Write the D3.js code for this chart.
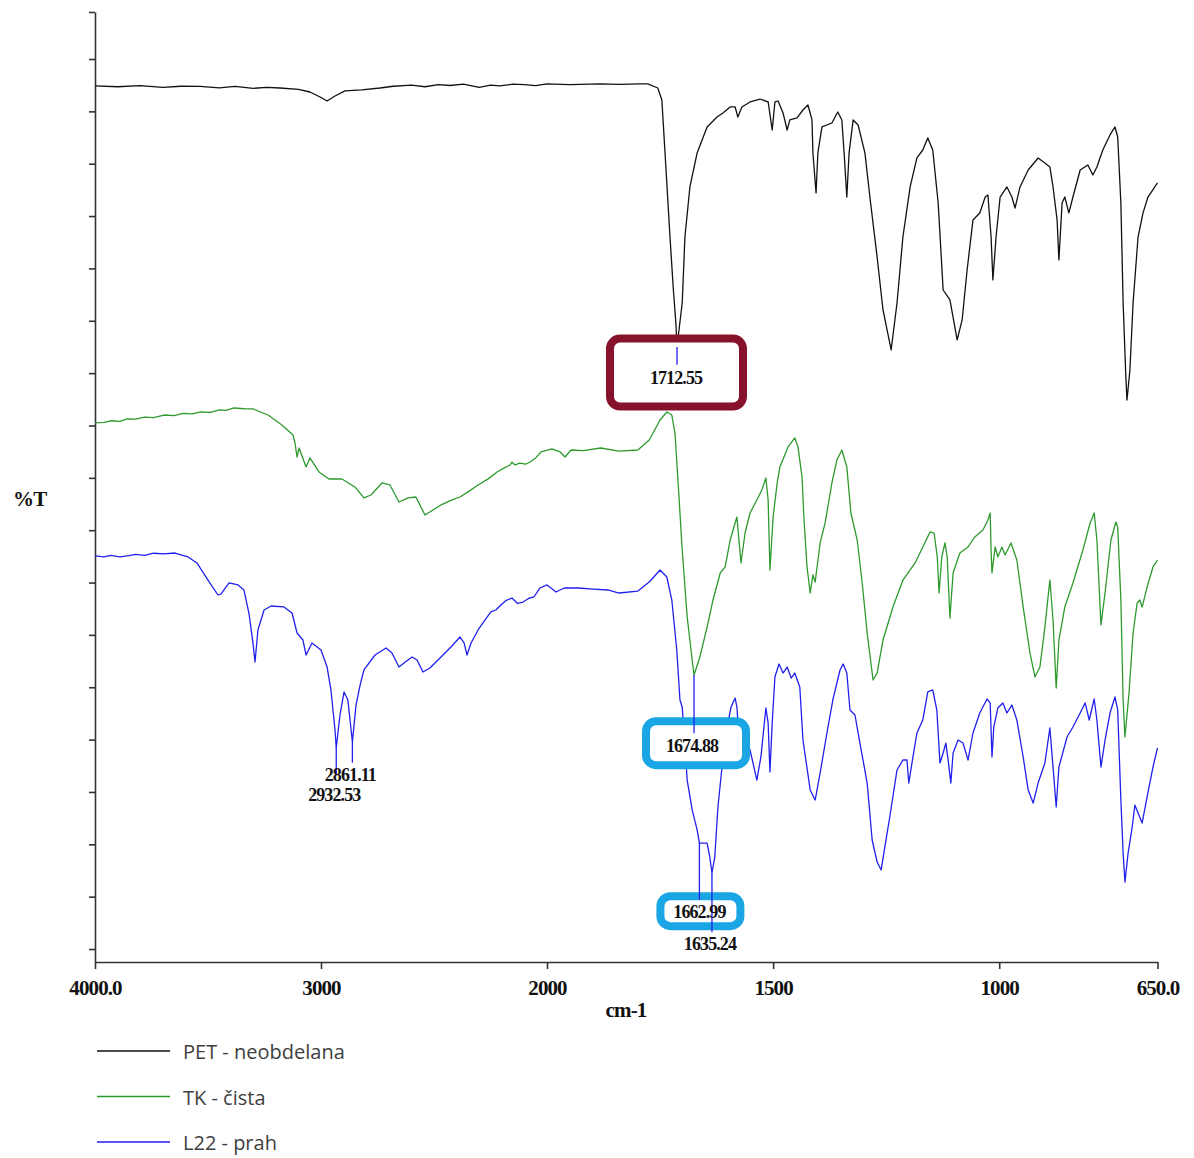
<!DOCTYPE html>
<html>
<head>
<meta charset="utf-8">
<script src="https://cdn.jsdelivr.net/npm/d3@7"></script>
<style>
  body { margin: 0; background: #fff; }
  svg { display: block; }
</style>
</head>
<body>
<svg id="chart" width="1194" height="1158"></svg>
<script>
// FTIR spectra: [wavenumber (cm-1), %T] pairs, stacked with offsets
const petSpectrum = [
  [4000,82.43],[3900,82.35],[3800,82.45],[3700,82.3],[3620,82.4],[3535,82.38],[3450,82.25],[3380,82.38],[3300,82.2],
  [3240,82.3],[3181,82.23],[3100,82.1],[3049,81.85],[3004,81.37],[2973,80.99],[2938,81.47],[2894,81.95],
  [2820,82.05],[2739,82.23],[2680,82.4],[2600,82.5],[2540,82.35],[2480,82.55],[2429,82.47],[2370,82.6],[2300,82.3],
  [2250,82.5],[2208,82.43],[2150,82.6],[2100,82.55],[2050,82.45],[2000,82.62],[1950,82.55],[1883,82.62],[1840,82.58],[1794,82.62],
  [1777,82.62],[1755,82.23],[1746,81.09],[1739,76.03],[1728,68.0],[1721,63.23],[1715,59.79],[1712.55,57.5],
  [1701,61.70],[1695,68.0],[1684,72.78],[1668,76.03],[1646,78.51],[1624,79.46],[1611,79.85],[1595,80.42],
  [1584,80.42],[1578,79.46],[1569,80.42],[1551,80.90],[1529,81.18],[1511,80.90],[1502,78.22],[1496,80.90],
  [1489,80.99],[1478,79.85],[1469,78.22],[1463,79.18],[1447,79.37],[1434,80.13],[1423,80.61],[1414,79.18],
  [1412,76.03],[1405,72.21],[1401,76.03],[1392,78.51],[1370,78.89],[1357,79.94],[1348,79.18],[1343,76.03],
  [1337,71.82],[1332,76.03],[1323,79.18],[1312,78.70],[1297,76.03],[1286,71.82],[1270,66.09],[1257,61.03],
  [1239,57.21],[1226,61.70],[1213,68.0],[1197,72.78],[1182,75.55],[1169,76.31],[1158,77.46],[1147,76.31],
  [1135,71.25],[1124,62.94],[1109,61.99],[1093,58.17],[1082,60.08],[1071,64.85],[1058,69.63],[1043,70.30],
  [1031,71.82],[1025,72.01],[1018,68.0],[1014,63.90],[1007,68.0],[998,71.82],[983,72.78],[972,71.82],
  [965,70.77],[954,72.78],[936,74.40],[914,75.55],[899,75.07],[888,74.69],[881,72.78],[872,69.63],
  [868,65.81],[861,71.25],[855,71.82],[846,70.30],[837,71.82],[821,74.40],[804,74.88],[793,73.93],
  [784,74.69],[771,76.31],[755,77.75],[744,78.51],[738,77.55],[731,71.25],[726,61.70],[720,54.63],
  [717.5,52.43],[711,55.30],[704,61.70],[693,68.0],[682,70.30],[671,71.82],[656,72.78],[650,73.16]
];

const tkSpectrum = [
  [4000,50.24],[3960,50.3],[3930,50.45],[3890,50.4],[3858,50.62],[3820,50.6],[3780,50.8],[3740,50.75],[3695,51.0],
  [3650,50.95],[3610,51.15],[3570,51.1],[3531,51.29],[3490,51.25],[3450,51.5],[3420,51.45],[3385,51.67],
  [3340,51.6],[3301,51.58],[3234,51.0],[3173,50.05],[3124,49.09],[3115,48.33],[3106,46.99],[3097,47.85],[3066,46.04],
  [3049,46.90],[3009,45.56],[2965,44.89],[2907,44.89],[2850,44.13],[2810,43.08],[2779,43.36],[2730,44.51],
  [2695,44.32],[2655,42.69],[2615,43.08],[2580,43.17],[2540,41.45],[2469,42.41],[2420,42.9],[2385,43.17],[2340,43.8],[2305,44.32],
  [2260,44.9],[2221,45.56],[2185,46.0],[2165,46.2],[2155,46.51],[2142,46.23],[2120,46.4],[2095,46.3],[2075,46.51],[2050,46.9],[2027,47.47],[1989,47.76],[1971,47.47],
  [1960,46.99],[1947,47.66],[1920,47.6],[1881,47.85],[1841,47.56],[1799,47.66],[1774,48.61],[1750,50.52],[1735,51.29],
  [1724,51.0],[1717,49.28],[1710,44.51],[1701,38.11],[1690,31.71],[1679,27.60],[1674.88,26.17],[1662,27.89],
  [1646,30.75],[1633,33.33],[1617,35.91],[1606,36.49],[1595,39.06],[1580,41.26],[1571,36.87],[1562,39.73],
  [1551,41.64],[1536,42.88],[1525,43.84],[1516,44.99],[1511,42.88],[1507,36.20],[1500,41.26],[1491,44.51],
  [1485,46.04],[1467,47.95],[1452,48.81],[1445,47.95],[1436,45.08],[1432,41.26],[1425,36.49],[1418,34.0],
  [1412,35.72],[1407,35.05],[1396,38.78],[1385,40.69],[1370,44.51],[1359,46.70],[1348,47.66],[1337,46.04],
  [1328,41.64],[1314,39.06],[1303,34.96],[1292,30.18],[1279,25.69],[1270,26.36],[1257,29.51],[1235,32.66],
  [1213,35.24],[1186,36.87],[1169,38.40],[1153,39.83],[1144,39.73],[1137,37.44],[1133,34.0],[1127,37.44],
  [1120,38.78],[1115,37.44],[1109,31.61],[1102,35.91],[1087,37.82],[1069,38.40],[1054,39.35],[1036,40.02],
  [1025,40.97],[1020,41.64],[1018,38.11],[1016,35.91],[1009,38.40],[1003,37.44],[994,38.40],[987,37.63],
  [974,38.78],[961,37.15],[947,32.66],[932,28.27],[921,25.98],[910,26.93],[899,30.75],[888,35.24],
  [881,31.42],[874,24.93],[868,29.51],[855,32.66],[837,34.96],[815,38.11],[799,40.69],[790,41.64],
  [784,39.06],[775,30.95],[766,34.0],[753,39.06],[742,40.78],[738,40.31],[731,33.33],[726,23.78],
  [722,20.25],[713,24.45],[704,30.18],[695,33.05],[689,33.33],[684,32.66],[673,34.57],[660,36.49],[650,37.15]
];

const l22Spectrum = [
  [4000,37.54],[3960,37.45],[3930,37.6],[3890,37.45],[3858,37.54],[3820,37.7],[3780,37.6],[3740,37.8],[3695,37.73],[3646,37.82],[3588,37.44],[3549,36.87],[3500,35.24],
  [3456,33.81],[3442,33.91],[3407,34.96],[3367,34.77],[3341,34.29],[3319,32.09],[3301,29.23],[3292,27.41],
  [3279,30.47],[3252,32.38],[3221,32.76],[3164,32.67],[3128,32.09],[3106,30.18],[3080,29.51],[3066,28.08],
  [3040,29.23],[3000,28.56],[2973,26.93],[2956,24.74],[2938,20.92],[2932.53,19.20],[2916,22.35],[2898,24.55],
  [2881,23.78],[2861.11,19.77],[2845,23.30],[2827,25.21],[2810,26.65],[2761,28.08],[2712,28.75],[2686,28.27],
  [2655,26.93],[2633,27.32],[2597,27.89],[2575,27.60],[2549,26.46],[2518,26.84],[2469,27.89],[2425,28.84],
  [2385,29.80],[2367,29.23],[2354,28.08],[2336,29.23],[2305,30.47],[2275,31.4],[2248,32.19],[2225,32.4],[2204,32.86],[2180,33.3],[2155,33.52],
  [2130,33.0],[2106,33.14],[2080,33.5],[2058,33.62],[2031,34.48],[2000,34.77],[1980,34.10],[1962,34.48],[1931,34.48],[1898,34.38],
  [1865,34.29],[1841,34.0],[1799,34.19],[1774,35.05],[1750,36.20],[1735,35.53],[1724,33.33],[1713,28.56],
  [1706,23.78],[1701,23.11],[1690,16.14],[1679,13.28],[1668,11.37],[1662.99,10.12],[1646,10.12],[1640,8.79],
  [1635.24,7.26],[1629,8.79],[1622,13.56],[1613,17.38],[1602,21.20],[1593,23.11],[1584,23.97],[1580,23.11],
  [1573,18.34],[1567,19.96],[1551,19.01],[1536,16.14],[1527,18.34],[1516,23.02],[1511,21.59],[1507,16.91],
  [1502,21.59],[1496,25.98],[1487,27.22],[1478,26.36],[1469,26.93],[1460,25.88],[1452,26.36],[1441,25.02],
  [1434,19.96],[1418,15.19],[1407,14.23],[1396,16.81],[1381,20.63],[1368,23.78],[1352,26.65],[1345,27.22],
  [1337,26.36],[1330,22.83],[1319,22.35],[1308,19.67],[1292,15.85],[1281,10.41],[1270,8.31],[1261,7.55],
  [1253,9.74],[1242,12.61],[1226,17.10],[1213,18.05],[1204,18.05],[1200,15.85],[1193,17.76],[1182,20.63],
  [1169,21.87],[1158,24.55],[1147,24.74],[1138,22.83],[1131,17.76],[1124,18.72],[1118,19.67],[1113,18.05],
  [1107,15.85],[1102,18.72],[1091,19.96],[1080,19.67],[1069,18.05],[1058,20.63],[1043,22.54],[1027,23.88],
  [1020,23.50],[1016,18.34],[1012,21.20],[1003,23.02],[992,23.50],[983,22.54],[972,23.30],[961,21.87],
  [947,18.34],[936,15.19],[925,13.94],[914,15.85],[899,17.76],[888,21.11],[881,17.38],[874,13.56],
  [868,17.38],[850,20.25],[837,21.20],[821,22.54],[810,23.50],[801,21.87],[790,23.88],[784,21.87],
  [775,17.38],[766,19.96],[755,22.54],[744,24.07],[738,22.83],[731,14.23],[726,9.17],[722,6.40],
  [715,9.17],[706,11.65],[700,13.75],[693,12.99],[684,12.03],[673,14.52],[660,17.38],[650,19.20]
];

const seriesNames = ["PET - neobdelana", "TK - čista", "L22 - prah"];
const seriesData = [petSpectrum, tkSpectrum, l22Spectrum];
const seriesColors = ["#111111", "#2e9a2e", "#2020ee"];

// x axis: expanded scale below 2000 cm-1
const xBreaks = [4000, 2000, 650];
const xTickValues = [4000, 3000, 2000, 1500, 1000, 650];
const xTickLabels = ["4000.0", "3000", "2000", "1500", "1000", "650.0"];
const yDomain = [-1.24, 89.49];
const yTickValues = [0,5,10,15,20,25,30,35,40,45,50,55,60,65,70,75,80,85,89.49];

// peak picks: wavenumber, series index, label text, line end and label baseline (%T)
const peakWn     = [1712.55, 2932.53, 2861.11, 1674.88, 1662.99, 1635.24];
const peakSeries = [0, 2, 2, 1, 2, 2];
const peakText   = ["1712.55", "2932.53", "2861.11", "1674.88", "1662.99", "1635.24"];
const peakLineEndT = [55.8, 16.6, 17.8, 20.6, 4.7, 1.6];
const peakLabelT   = [54.0, 14.1, 16.05, 18.8, 2.95, -0.1];
const peakLabelDx  = [-1, -2, -2, -2, 0, -2];
// highlight frames around labels: [label index, colour, left, right, top, bottom]
const frames = [
  [0, "#86122b", -66, 67, -45, 23],
  [3, "#1aa6e4", -46, 54, -31, 13],
  [4, "#1aa6e4", -39, 41, -22, 8]
];

const svg = d3.select("#chart");
const x = d3.scaleLinear().domain(xBreaks).range([95, 547, 1157.5]);
const y = d3.scaleLinear().domain(yDomain).range([962, 12]);

// axes
const axisColor = "#333";
const serif = "'Liberation Serif', 'Times New Roman', serif";
const gx = svg.append("g").attr("transform", "translate(0,962)")
  .call(d3.axisBottom(x).tickValues(xTickValues)
    .tickFormat((d, i) => xTickLabels[i]).tickSize(7).tickSizeOuter(0).tickPadding(11));
gx.select(".domain").attr("stroke", axisColor).attr("stroke-width", 1.6);
gx.selectAll(".tick line").attr("stroke", axisColor).attr("stroke-width", 1.6);
gx.selectAll(".tick text")
  .attr("font-family", serif)
  .attr("font-weight", "bold").attr("font-size", 21).attr("letter-spacing", -0.9)
  .attr("fill", "#111");

const gy = svg.append("g").attr("transform", "translate(95,0)")
  .call(d3.axisLeft(y).tickValues(yTickValues).tickFormat("").tickSize(6).tickSizeOuter(0));
gy.select(".domain").attr("stroke", axisColor).attr("stroke-width", 1.6);
gy.selectAll(".tick line").attr("stroke", axisColor).attr("stroke-width", 1.6);

svg.append("text").attr("x", 13).attr("y", 506)
  .attr("font-family", serif).attr("font-weight", "bold")
  .attr("font-size", 21).attr("letter-spacing", -0.8).attr("fill", "#111").text("%T");
svg.append("text").attr("x", 626).attr("y", 1017).attr("text-anchor", "middle")
  .attr("font-family", serif).attr("font-weight", "bold")
  .attr("font-size", 21).attr("letter-spacing", -0.8).attr("fill", "#111").text("cm-1");

// spectra
const line = d3.line().x(d => x(d[0])).y(d => y(d[1]));
seriesData.forEach((s, i) => {
  svg.append("path").datum(s)
    .attr("fill", "none").attr("stroke", seriesColors[i])
    .attr("stroke-width", 1.3).attr("stroke-linejoin", "round")
    .attr("d", line);
});

// peak pick marker lines, from the band minimum down to its label
const markerLines = svg.append("g");
const drawMarkers = () => peakWn.forEach((wn, i) => {
  const pt = seriesData[peakSeries[i]].find(d => d[0] === wn);
  markerLines.append("line")
    .attr("x1", x(wn)).attr("x2", x(wn))
    .attr("y1", y(pt[1])).attr("y2", y(peakLineEndT[i]))
    .attr("stroke", "#2020ee").attr("stroke-width", 1.3);
});

// highlight frames (white filled, so the curves under them are hidden)
frames.forEach(f => {
  const i = f[0];
  const cx = x(peakWn[i]) + peakLabelDx[i];
  const by = y(peakLabelT[i]);
  svg.append("rect")
    .attr("x", cx + f[2]).attr("y", by + f[4])
    .attr("width", f[3] - f[2]).attr("height", f[5] - f[4])
    .attr("rx", 10).attr("ry", 10)
    .attr("fill", "#fff").attr("stroke", f[1]).attr("stroke-width", 8);
});
markerLines.raise();
drawMarkers();

peakWn.forEach((wn, i) => {
  svg.append("text")
    .attr("x", x(wn) + peakLabelDx[i]).attr("y", y(peakLabelT[i]))
    .attr("text-anchor", "middle")
    .attr("font-family", serif).attr("font-weight", "bold")
    .attr("font-size", 18).attr("letter-spacing", -0.9).attr("fill", "#111")
    .text(peakText[i]);
});

// legend
const legend = svg.append("g").attr("transform", "translate(97,1051)");
seriesNames.forEach((name, i) => {
  const g = legend.append("g").attr("transform", `translate(0,${i * 45.5})`);
  g.append("line").attr("x1", 0).attr("x2", 73).attr("y1", 0).attr("y2", 0)
    .attr("stroke", seriesColors[i]).attr("stroke-width", 1.5);
  g.append("text").attr("x", 86).attr("y", 8)
    .attr("font-family", "'Open Sans', 'Noto Sans', sans-serif")
    .attr("font-size", 20).attr("fill", "#404040").text(name);
});
</script>
</body>
</html>
